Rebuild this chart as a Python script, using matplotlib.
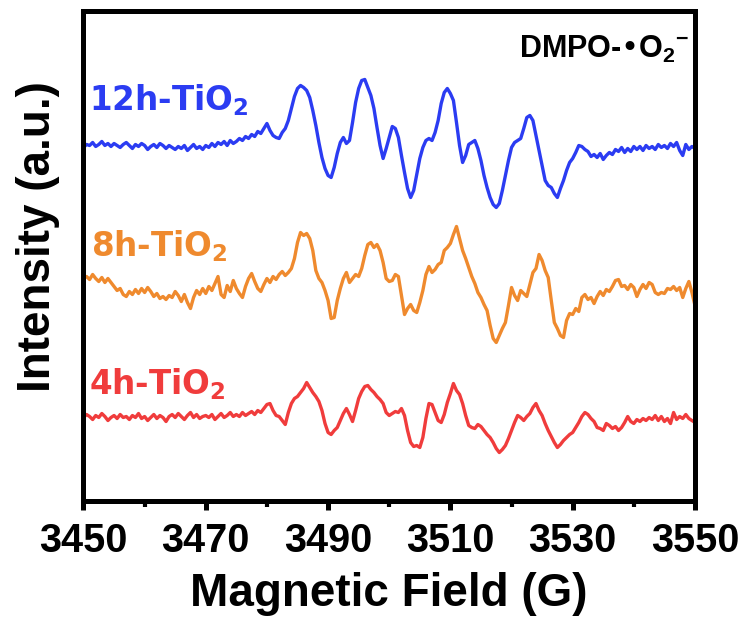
import numpy as np
import matplotlib
matplotlib.use('Agg')
import matplotlib.pyplot as plt
from matplotlib import font_manager
from matplotlib.font_manager import FontProperties

# EPR spectra (DMPO spin trap), intensities, 0.5 G steps
field = np.linspace(3450, 3550, 201)

ti_12h = [353, 356, 355, 358, 354, 356, 359, 355, 357, 354,
          357, 355, 353, 356, 358, 355, 352, 356, 354, 357,
          355, 351, 354, 356, 353, 357, 355, 352, 355, 353,
          351, 354, 352, 355, 350, 353, 356, 352, 354, 351,
          355, 353, 357, 354, 358, 356, 359, 355, 360, 357,
          359, 362, 360, 364, 362, 366, 364, 369, 367, 372,
          377, 370, 365, 363, 362, 368, 372, 380, 392, 404,
          412, 415, 413, 410, 403, 390, 375, 358, 343, 332,
          325, 323, 333, 347, 358, 363, 357, 360, 378, 398,
          412, 420, 421, 413, 405, 392, 373, 355, 342, 352,
          363, 374, 372, 363, 345, 328, 312, 303, 310, 326,
          342, 353, 360, 362, 360, 368, 380, 397, 408, 412,
          407, 400, 378, 355, 338, 345, 356, 358, 360, 352,
          340, 325, 313, 303, 296, 293, 297, 310, 325, 340,
          353, 358, 360, 362, 372, 383, 385, 380, 365, 350,
          335, 320, 315, 313, 307, 303, 312, 320, 330, 338,
          342, 348, 355, 354, 351, 349, 344, 346, 343, 347,
          341, 345, 348, 346, 351, 349, 353, 348, 352, 349,
          354, 351, 354, 350, 355, 352, 354, 351, 356, 353,
          355, 352, 357, 354, 358, 350, 345, 356, 351, 354,
          352]

ti_8h = [222, 224, 221, 226, 222, 219, 223, 218, 222, 218,
         214, 210, 212, 206, 204, 209, 206, 211, 207, 212,
         208, 213, 209, 204, 207, 202, 204, 201, 205, 203,
         209, 205, 199, 206, 198, 192, 203, 210, 206, 212,
         207, 214, 210, 217, 224, 206, 203, 215, 209, 220,
         212, 207, 203, 214, 222, 227, 219, 212, 209, 216,
         222, 218, 224, 221, 226, 229, 225, 228, 232, 242,
         258, 268, 265, 267, 262, 250, 230, 222, 218, 210,
         200, 182, 183, 200, 212, 222, 228, 218, 222, 226,
         224, 232, 245, 256, 258, 253, 256, 250, 238, 222,
         219, 220, 226, 224, 205, 186, 192, 196, 190, 188,
         198, 210, 226, 234, 228, 231, 236, 238, 250, 253,
         257, 266, 274, 262, 250, 242, 233, 224, 217, 208,
         203, 196, 190, 175, 162, 158, 165, 172, 178, 195,
         213, 205, 200, 210, 207, 204, 216, 228, 232, 246,
         240, 230, 223, 200, 178, 172, 165, 163, 180, 187,
         186, 192, 189, 203, 206, 201, 203, 197, 204, 209,
         205, 211, 209, 214, 220, 221, 214, 215, 211, 216,
         213, 204, 211, 216, 212, 218, 216, 208, 206, 208,
         207, 212, 211, 214, 210, 213, 203, 212, 219, 208,
         195]

ti_4h = [83, 86, 84, 81, 85, 83, 87, 84, 80, 83,
         85, 82, 86, 83, 84, 81, 85, 83, 87, 82,
         84, 80, 83, 86, 82, 85, 83, 79, 84, 86,
         83, 87, 84, 81, 85, 88, 83, 86, 82, 84,
         85, 83, 86, 81, 84, 87, 83, 85, 88, 84,
         86, 84, 88, 85, 87, 89, 86, 90, 88, 92,
         96, 97, 90, 85, 84, 80, 76, 88, 97, 102,
         104, 108, 112, 118, 113, 108, 104, 99, 90, 77,
         68, 66, 70, 73, 80, 87, 92, 86, 79, 90,
         102, 109, 114, 115, 111, 108, 104, 101, 97, 88,
         85, 87, 89, 88, 92, 85, 70, 58, 54, 55,
         53, 63, 82, 97, 96, 88, 80, 78, 86, 98,
         107, 117, 110, 106, 97, 85, 75, 73, 72, 76,
         74, 70, 66, 63, 58, 52, 48, 51, 55, 62,
         70, 78, 85, 83, 80, 84, 87, 93, 97, 90,
         85, 77, 70, 64, 58, 53, 56, 60, 63, 66,
         68, 73, 78, 84, 88, 86, 82, 79, 73, 72,
         70, 77, 75, 72, 74, 70, 73, 78, 84, 79,
         77, 81, 79, 82, 80, 83, 81, 85, 80, 84,
         79, 82, 77, 88, 81, 84, 82, 86, 82, 80,
         78]

series_names = [r'12h-TiO$_2$', r'8h-TiO$_2$', r'4h-TiO$_2$']
colors = ['#2b3cf2', '#ef8a2e', '#f03c3c']
label_pos = [(3450.9, 390), (3451.3, 244), (3450.9, 106)]
x_major = [3450, 3470, 3490, 3510, 3530, 3550]
x_minor = [3460, 3480, 3500, 3520, 3540]


def has_font(name):
    try:
        font_manager.findfont(FontProperties(family=name, weight='bold'),
                              fallback_to_default=False)
        return True
    except ValueError:
        return False


narrow = has_font('Liberation Sans Narrow')
if narrow:
    axis_font = 'Liberation Sans Narrow'
    tick_size, label_size = 34, 40
else:
    axis_font = 'Liberation Sans'
    tick_size, label_size = 28.5, 33

plt.rcParams['mathtext.default'] = 'regular'

fig = plt.figure(figsize=(7.46, 6.17), dpi=100)
ax = fig.add_axes([0.1119, 0.1888, 0.8197, 0.7926])

for data, c in zip([ti_12h, ti_8h, ti_4h], colors):
    ax.plot(field, data, color=c, lw=2.4)

for name, c, (lx, ly) in zip(series_names, colors, label_pos):
    ax.text(lx, ly, name, color=c, fontsize=23.5, fontweight='bold',
            family='DejaVu Sans', ha='left', va='baseline')

ax.text(3549.0, 443, r'DMPO-•O$_2{}^{-}$', fontsize=22, fontweight='bold',
        family=['Liberation Sans', 'DejaVu Sans'], ha='right', va='baseline')

ax.set_xlim(3450, 3550)
ax.set_ylim(0, 489)
ax.set_yticks([])
ax.set_xticks(x_major)
ax.set_xticks(x_minor, minor=True)
ax.tick_params(axis='x', which='major', direction='out', length=6.8,
               width=3.6, pad=9)
ax.tick_params(axis='x', which='minor', direction='out', length=4,
               width=3)
for lab in ax.get_xticklabels():
    lab.set_family(axis_font)
    lab.set_fontweight('bold')
    lab.set_fontsize(tick_size)
for sp in ax.spines.values():
    sp.set_linewidth(3.6)

fig.text(389 / 746, 1 - 606 / 617, 'Magnetic Field (G)', family=axis_font,
         fontweight='bold', fontsize=label_size, ha='center', va='baseline')
fig.text(50 / 746, 1 - 237 / 617, 'Intensity (a.u.)', family=axis_font,
         fontweight='bold', fontsize=label_size, ha='center', va='baseline',
         rotation=90, rotation_mode='anchor')

fig.savefig('out.png', dpi=100)
